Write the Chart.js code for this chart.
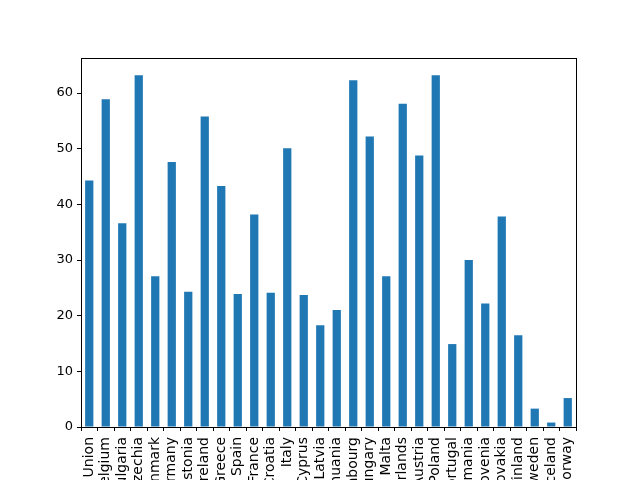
<!DOCTYPE html>
<html>
<head>
<meta charset="utf-8">
<script src="https://cdn.jsdelivr.net/npm/chart.js@4/dist/chart.umd.min.js"></script>
<style>
  html, body { margin: 0; padding: 0; background: #fff; }
  #wrap { width: 640px; height: 480px; }
</style>
</head>
<body>
<div id="wrap"><canvas id="barChart" width="640" height="480"></canvas></div>
<script>
const countries = [
  "European Union", "Belgium", "Bulgaria", "Czechia", "Denmark", "Germany",
  "Estonia", "Ireland", "Greece", "Spain", "France", "Croatia", "Italy",
  "Cyprus", "Latvia", "Lithuania", "Luxembourg", "Hungary", "Malta",
  "Netherlands", "Austria", "Poland", "Portugal", "Romania", "Slovenia",
  "Slovakia", "Finland", "Sweden", "Iceland", "Norway"
];
const values = [
  44.3, 58.9, 36.6, 63.2, 27.1, 47.6,
  24.3, 55.8, 43.3, 23.9, 38.2, 24.1, 50.1,
  23.7, 18.3, 21.0, 62.3, 52.2, 27.1,
  58.1, 48.8, 63.2, 14.9, 30.0, 22.2,
  37.8, 16.5, 3.3, 0.8, 5.2
];
const yTicks = [0, 10, 20, 30, 40, 50, 60];

// draws the closed box round the plot area, like matplotlib's spines
const frame = {
  id: "frame",
  afterDraw(chart) {
    const { ctx, chartArea: a } = chart;
    ctx.save();
    ctx.strokeStyle = "#000";
    ctx.lineWidth = 1;
    ctx.strokeRect(Math.round(a.left) + 0.5, Math.round(a.top) + 0.5,
      Math.round(a.right - a.left), Math.round(a.bottom - a.top));
    ctx.restore();
  },
};

const ctx = document.getElementById("barChart").getContext("2d");
new Chart(ctx, {
  type: "bar",
  data: {
    labels: countries,
    datasets: [{
      data: values,
      backgroundColor: "#1f77b4",
      categoryPercentage: 0.5,
      barPercentage: 1.0,
    }],
  },
  options: {
    responsive: false,
    animation: false,
    layout: { padding: { top: 58, right: 64, left: 0, bottom: 0 } },
    plugins: { legend: { display: false }, tooltip: { enabled: false } },
    scales: {
      x: {
        offset: true,
        grid: { display: true, drawOnChartArea: false, drawTicks: true, tickLength: 4, color: "#000" },
        border: { display: false },
        ticks: {
          autoSkip: false,
          minRotation: 90,
          maxRotation: 90,
          padding: 6,
          color: "#000",
          font: { family: "DejaVu Sans", size: 14 },
        },
        afterFit(scale) { scale.height = 53; },
      },
      y: {
        min: 0,
        max: 66.3,
        grid: { display: true, drawOnChartArea: false, drawTicks: true, tickLength: 4, color: "#000" },
        border: { display: false },
        ticks: {
          stepSize: 10,
          padding: 4,
          color: "#000",
          font: { family: "DejaVu Sans", size: 13 },
        },
        afterBuildTicks(scale) {
          scale.ticks = yTicks.map((v) => ({ value: v }));
        },
        afterFit(scale) { scale.width = 81; },
      },
    },
  },
  plugins: [frame],
});
</script>
</body>
</html>
